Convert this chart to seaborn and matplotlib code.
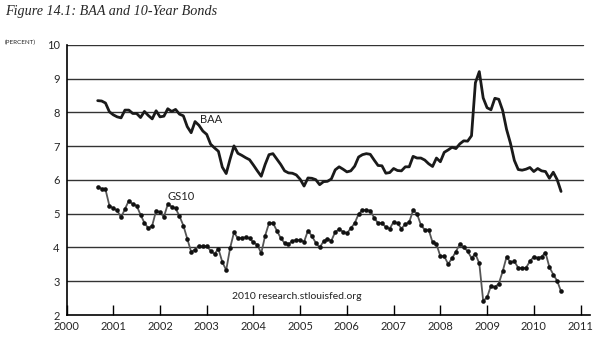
import numpy as np
import pandas as pd
import matplotlib
matplotlib.use("Agg")
import matplotlib.pyplot as plt
import seaborn as sns

# ---- data (monthly, Sep 2000 - Aug 2010) ----
start_month = "2000-09"
baa = [8.35, 8.34, 8.28, 8.02,
       7.93, 7.87, 7.84, 8.07, 8.07, 7.97, 7.97, 7.85, 8.03, 7.91, 7.81, 8.05,
       7.87, 7.89, 8.11, 8.03, 8.09, 7.95, 7.90, 7.58, 7.40, 7.73, 7.62, 7.45,
       7.35, 7.06, 6.95, 6.85, 6.38, 6.19, 6.62, 7.01, 6.79, 6.73, 6.66, 6.60,
       6.44, 6.27, 6.11, 6.46, 6.75, 6.78, 6.62, 6.46, 6.27, 6.21, 6.20, 6.15,
       6.02, 5.82, 6.06, 6.05, 6.01, 5.86, 5.95, 5.96, 6.03, 6.30, 6.39, 6.32,
       6.24, 6.27, 6.41, 6.68, 6.75, 6.78, 6.76, 6.59, 6.43, 6.42, 6.20, 6.22,
       6.34, 6.28, 6.27, 6.39, 6.39, 6.70, 6.65, 6.65, 6.59, 6.48, 6.40, 6.65,
       6.54, 6.82, 6.89, 6.97, 6.93, 7.07, 7.16, 7.15, 7.31, 8.88, 9.21, 8.43,
       8.14, 8.08, 8.42, 8.39, 8.06, 7.50, 7.09, 6.58, 6.31, 6.29, 6.32, 6.37,
       6.25, 6.34, 6.27, 6.25, 6.05, 6.23, 6.01, 5.66]
gs10 = [5.80, 5.74, 5.72, 5.24,
        5.16, 5.10, 4.89, 5.14, 5.39, 5.28, 5.24, 4.97, 4.73, 4.57, 4.65, 5.09,
        5.04, 4.91, 5.28, 5.21, 5.16, 4.93, 4.65, 4.26, 3.87, 3.94, 4.05, 4.03,
        4.05, 3.90, 3.81, 3.96, 3.57, 3.33, 3.98, 4.45, 4.27, 4.29, 4.30, 4.27,
        4.15, 4.08, 3.83, 4.35, 4.72, 4.73, 4.50, 4.28, 4.13, 4.10, 4.19, 4.23,
        4.22, 4.17, 4.50, 4.34, 4.14, 4.00, 4.18, 4.26, 4.20, 4.46, 4.54, 4.47,
        4.42, 4.57, 4.72, 4.99, 5.11, 5.11, 5.09, 4.88, 4.72, 4.73, 4.60, 4.56,
        4.76, 4.72, 4.56, 4.69, 4.75, 5.10, 5.00, 4.67, 4.52, 4.53, 4.15, 4.10,
        3.74, 3.74, 3.51, 3.68, 3.88, 4.10, 4.01, 3.89, 3.69, 3.81, 3.53, 2.42,
        2.52, 2.87, 2.82, 2.93, 3.29, 3.72, 3.56, 3.59, 3.40, 3.39, 3.40, 3.59,
        3.73, 3.69, 3.73, 3.85, 3.42, 3.20, 3.01, 2.70]
x_ticks = list(range(2000, 2012))
y_ticks = list(range(2, 11))
title = "Figure 14.1: BAA and 10-Year Bonds"

dates = pd.date_range(start_month, periods=len(baa), freq="MS")
t = dates.year + (dates.month - 1) / 12.0
df = pd.DataFrame({"t": t, "BAA": baa, "GS10": gs10})

sns.set_theme(style="white")
plt.rcParams["font.family"] = ["Lato", "DejaVu Sans"]

fig = plt.figure(figsize=(6.05, 3.41), dpi=100)
ax = fig.add_axes([0.110, 0.0762, 0.865, 0.792])

x0, x1 = 2000, 2011.2
ax.set_xlim(x0, x1)
ax.set_ylim(2, 10)

grid_end = (2011.06 - x0) / (x1 - x0)
for yv in y_ticks[1:]:
    ax.axhline(yv, xmin=0, xmax=grid_end, color="#333333", lw=1.0, zorder=1)

sns.lineplot(data=df, x="t", y="BAA", ax=ax, color="#1a1a1a", lw=2.0, zorder=3)
sns.lineplot(data=df, x="t", y="GS10", ax=ax, color="#555555", lw=1.3,
             marker="o", markersize=3.3, markeredgewidth=0,
             markerfacecolor="#111111", zorder=4)

ax.set_xticks(x_ticks)
ax.set_yticks(y_ticks)
ax.set_xlabel("")
ax.set_ylabel("")
ax.tick_params(axis="x", direction="in", length=7, width=1, color="black",
               labelsize=8, pad=4, bottom=True)
ax.tick_params(axis="y", length=0, labelsize=8, pad=5, left=False)
for s in ["top", "right"]:
    ax.spines[s].set_visible(False)
for s in ["left", "bottom"]:
    ax.spines[s].set_color("black")
    ax.spines[s].set_linewidth(1.2)

ax.text(2002.86, 7.8, "BAA", fontsize=8, color="#222222", va="center", ha="left",
        zorder=5)
ax.text(2002.17, 5.5, "GS10", fontsize=8, color="#222222", va="center", ha="left",
        zorder=5)
ax.text(2004.93, 2.55, "2010 research.stlouisfed.org", fontsize=7.5,
        color="#222222", ha="center", va="center")

fig.text(0.008, 0.965, title, fontsize=10.2, style="italic",
         family=["Liberation Serif", "DejaVu Serif"], ha="left", va="center")
fig.text(0.008, 0.875, "(PERCENT)", fontsize=4.5, ha="left", va="center")

fig.savefig("out.png", dpi=100)
